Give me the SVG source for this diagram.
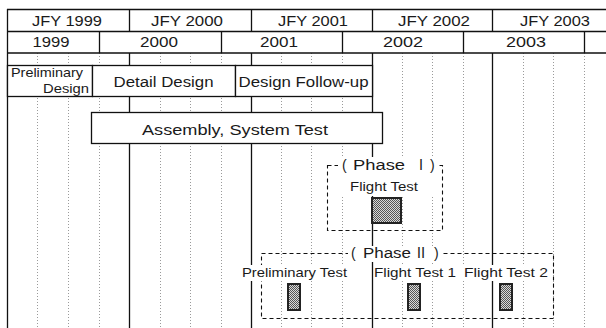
<svg xmlns="http://www.w3.org/2000/svg" width="606" height="328" viewBox="0 0 606 328">
  <defs>
    <style>
      text { font-family: "Liberation Sans", "DejaVu Sans", "Noto Sans CJK JP", sans-serif; fill: #1a1a1a; }
      .hdr { font-size: 14px; text-anchor: middle; }
      .task { font-size: 14px; }
      .small { font-size: 13px; }
      .lbl { font-size: 13px; }
      .ph { font-size: 14px; }
      .num { font-family: "Noto Sans CJK JP", "DejaVu Sans", sans-serif; }
      .solid { stroke: #111; stroke-width: 1.3; fill: none; }
      .dot { stroke: #9a9a9a; stroke-width: 1; stroke-dasharray: 1 2; fill: none; }
      .box { fill: #fff; stroke: #111; stroke-width: 1.3; }
      .phase { fill: none; stroke: #111; stroke-width: 1.1; stroke-dasharray: 4 3; }
      .knock { fill: #fff; }
      .bar { fill: url(#tone); stroke: #222; stroke-width: 2; }
    </style>
    <pattern id="tone" width="2" height="2" patternUnits="userSpaceOnUse">
      <rect width="2" height="2" fill="#d8d8d8"/>
      <rect width="1" height="1" fill="#555"/>
      <rect x="1" y="1" width="1" height="1" fill="#555"/>
    </pattern>
  </defs>

  <rect width="606" height="328" fill="#fff"/>

  <!-- quarter grid -->
  <g id="grid-quarters" class="dot">
    <path d="M37.5 53V328M68.5 53V328M99.5 53V328M160.5 53V328M190.5 53V328M221.5 53V328M281.5 53V328M311.5 53V328M342.5 53V328M402.5 53V328M432.5 53V328M463.5 53V328M523.5 53V328M553.5 53V328M584.5 53V328"/>
  </g>

  <!-- header rules and fiscal-year boundaries -->
  <g id="grid-main" class="solid">
    <path d="M7 9.5H606M7 31.5H606M7 53H606"/>
    <path d="M7.5 9V328"/>
    <!-- fiscal year boundaries: header row 1 and body -->
    <path d="M129.5 9V31M251.5 9V31M372.5 9V31M492.5 9V31"/>
    <path d="M129.5 53V328M251.5 53V328M372.5 53V328M492.5 53V328"/>
    <!-- calendar year boundaries: header row 2 -->
    <path d="M99.5 31V53M221.5 31V53M342.5 31V53M463.5 31V53M584.5 31V53"/>
  </g>

  <!-- header labels -->
  <g id="header">
    <text class="hdr" x="67" y="26" textLength="70" lengthAdjust="spacingAndGlyphs">JFY 1999</text>
    <text class="hdr" x="187" y="26" textLength="72" lengthAdjust="spacingAndGlyphs">JFY 2000</text>
    <text class="hdr" x="313" y="26" textLength="70" lengthAdjust="spacingAndGlyphs">JFY 2001</text>
    <text class="hdr" x="434" y="26" textLength="72" lengthAdjust="spacingAndGlyphs">JFY 2002</text>
    <text class="hdr" x="555" y="26" textLength="70" lengthAdjust="spacingAndGlyphs">JFY 2003</text>
    <text class="hdr" x="51" y="47" textLength="37" lengthAdjust="spacingAndGlyphs">1999</text>
    <text class="hdr" x="159" y="47" textLength="38" lengthAdjust="spacingAndGlyphs">2000</text>
    <text class="hdr" x="279" y="47" textLength="38" lengthAdjust="spacingAndGlyphs">2001</text>
    <text class="hdr" x="403" y="47" textLength="40" lengthAdjust="spacingAndGlyphs">2002</text>
    <text class="hdr" x="526" y="47" textLength="40" lengthAdjust="spacingAndGlyphs">2003</text>
  </g>

  <!-- design phase tasks -->
  <g id="preliminary-design">
    <rect class="box" x="7.5" y="65.5" width="85" height="31"/>
    <text class="small" x="11" y="77" textLength="72" lengthAdjust="spacingAndGlyphs">Preliminary</text>
    <text class="small" x="43" y="93" textLength="46" lengthAdjust="spacingAndGlyphs">Design</text>
  </g>
  <g id="detail-design">
    <rect class="box" x="92.5" y="65.5" width="143" height="31"/>
    <text class="task" x="163.5" y="87" text-anchor="middle" textLength="100" lengthAdjust="spacingAndGlyphs">Detail Design</text>
  </g>
  <g id="design-follow-up">
    <rect class="box" x="235.5" y="65.5" width="137" height="31"/>
    <text class="task" x="303.5" y="87" text-anchor="middle" textLength="130" lengthAdjust="spacingAndGlyphs">Design Follow-up</text>
  </g>
  <g id="assembly-system-test">
    <rect class="box" x="91.5" y="112.5" width="291" height="31"/>
    <text class="task" x="235" y="135" text-anchor="middle" textLength="186" lengthAdjust="spacingAndGlyphs">Assembly, System Test</text>
  </g>

  <!-- phase I flight test -->
  <g id="phase-1">
    <rect class="phase" x="327.5" y="165.5" width="115" height="65"/>
    <rect class="knock" x="338" y="157" width="100" height="39"/>
    <text class="ph" y="170"><tspan x="342">(</tspan><tspan x="353" textLength="52" lengthAdjust="spacingAndGlyphs">Phase</tspan><tspan class="num" x="414">Ⅰ</tspan><tspan x="430">)</tspan></text>
    <text class="lbl" x="350" y="191" textLength="68" lengthAdjust="spacingAndGlyphs">Flight Test</text>
    <rect class="bar" x="372" y="198" width="29" height="25"/>
  </g>

  <!-- phase II tests -->
  <g id="phase-2">
    <rect class="phase" x="261.5" y="253.5" width="292" height="65"/>
    <rect class="knock" x="348" y="246" width="95" height="16"/>
    <text class="ph" y="258"><tspan x="351">(</tspan><tspan x="363" textLength="48" lengthAdjust="spacingAndGlyphs">Phase</tspan><tspan class="num" x="414">Ⅱ</tspan><tspan x="434">)</tspan></text>
  </g>
  <g id="preliminary-test">
    <rect class="knock" x="240" y="265" width="109" height="16"/>
    <text class="lbl" x="242" y="277" textLength="105" lengthAdjust="spacingAndGlyphs">Preliminary Test</text>
    <rect class="bar" x="288" y="284" width="12" height="26"/>
  </g>
  <g id="flight-test-1">
    <rect class="knock" x="374" y="265" width="88" height="16"/>
    <text class="lbl" x="374" y="277" textLength="82" lengthAdjust="spacingAndGlyphs">Flight Test 1</text>
    <rect class="bar" x="408" y="284" width="12" height="26"/>
  </g>
  <g id="flight-test-2">
    <rect class="knock" x="462" y="265" width="89" height="16"/>
    <text class="lbl" x="464" y="277" textLength="84" lengthAdjust="spacingAndGlyphs">Flight Test 2</text>
    <rect class="bar" x="500" y="284" width="12" height="26"/>
  </g>

  <g id="connectors"/>
</svg>
